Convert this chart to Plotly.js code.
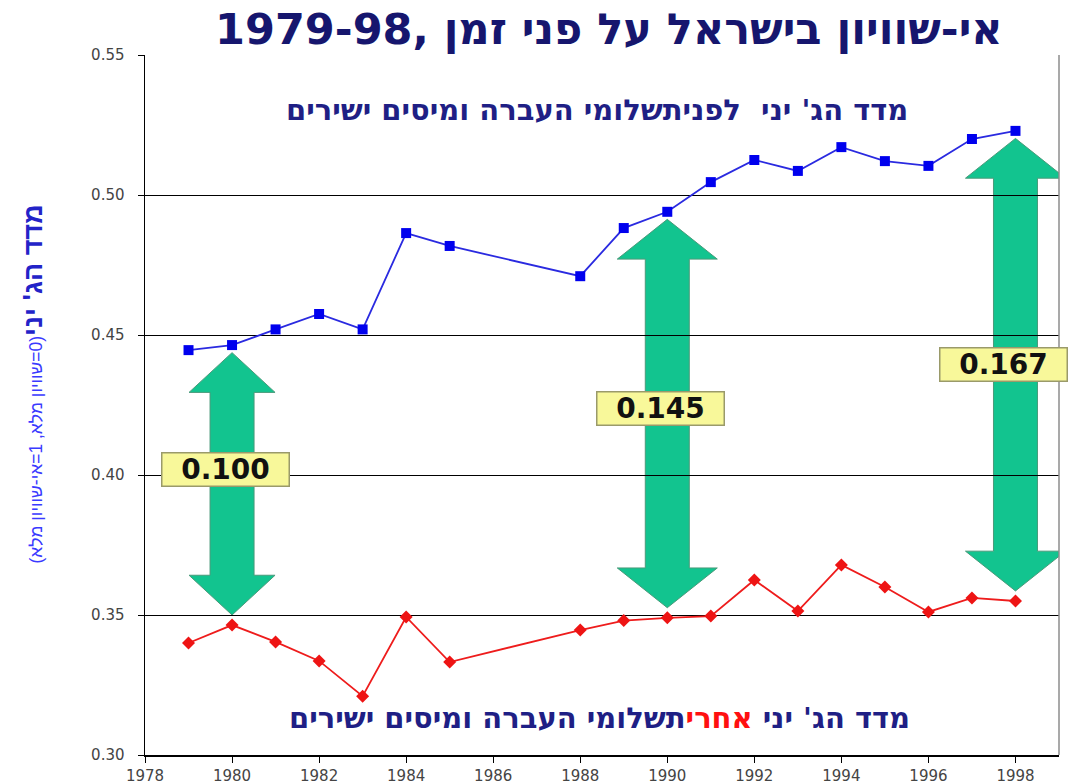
<!DOCTYPE html>
<html>
<head>
<meta charset="utf-8">
<script src="https://cdn.plot.ly/plotly-3.0.1.min.js"></script>
<style>html,body{margin:0;padding:0;background:#fff;}#chart{width:1072px;height:783px;}</style>
</head>
<body>
<div id="chart"></div>
<script>
// ---- data ----
const years = [1979, 1980, 1981, 1982, 1983, 1984, 1985, 1988, 1989, 1990, 1991, 1992, 1993, 1994, 1995, 1996, 1997, 1998];
const giniBefore = [0.4446, 0.4464, 0.452, 0.4575, 0.452, 0.4864, 0.4818, 0.471, 0.4882, 0.494, 0.5046, 0.5125, 0.5086, 0.5171, 0.5121, 0.5104, 0.520, 0.5229];
const giniAfter = [0.340, 0.3464, 0.3404, 0.3336, 0.321, 0.3493, 0.3332, 0.3446, 0.348, 0.349, 0.3496, 0.3625, 0.3514, 0.3679, 0.360, 0.3511, 0.3561, 0.355];
const gapYears = [1980, 1990, 1998];
const gapLabels = ['0.100', '0.145', '0.167'];
const yTickVals = [0.30, 0.35, 0.40, 0.45, 0.50, 0.55];
const xTickVals = [1978, 1980, 1982, 1984, 1986, 1988, 1990, 1992, 1994, 1996, 1998];

const titleText = 'אי-שוויון בישראל על פני זמן ,1979-98';
const topLabel = "מדד הג' יני  לפניתשלומי העברה ומיסים ישירים";
const bottomLabelA = "מדד הג' יני ";
const bottomLabelB = 'אחרי';
const bottomLabelC = 'תשלומי העברה ומיסים ישירים';
const yTitleMain = "מדד הג' יני";
const yTitleSub = '(0=שוויון מלא, 1=אי-שוויון מלא)';

// ---- style / layout ----
const headHalf = [43, 50, 50];
const shaftHalf = 22;
const headH = 0.0142;
const tipTop = 0.0027, tipBot = 0.0036;
const labelPos = [[1979.84, 0.4018], [1989.84, 0.4238], [1997.72, 0.4393]];

function arrowPath(hw, yt, yb) {
  const sw = shaftHalf;
  const pts = [[0, yt], [hw, yt - headH], [sw, yt - headH], [sw, yb + headH], [hw, yb + headH], [0, yb],
               [-hw, yb + headH], [-sw, yb + headH], [-sw, yt - headH], [-hw, yt - headH]];
  return 'M' + pts.map(p => p[0] + ',' + p[1]).join(' L') + ' Z';
}

const shapes = [];
gapYears.forEach((yr, i) => {
  const idx = years.indexOf(yr);
  const yt = giniBefore[idx] - tipTop;
  const yb = giniAfter[idx] + tipBot;
  shapes.push({
    type: 'path', xref: 'x', yref: 'y', xsizemode: 'pixel', xanchor: yr,
    path: arrowPath(headHalf[i], yt, yb),
    fillcolor: '#12C48F', line: {color: '#4a9a7a', width: 1}, layer: 'below'
  });
});
shapes.push({type: 'line', xref: 'paper', yref: 'paper', x0: 1, x1: 1, y0: 0, y1: 1, line: {color: '#8c8c8c', width: 1.5}});

const annotations = [];
gapLabels.forEach((t, i) => {
  annotations.push({
    x: labelPos[i][0], y: labelPos[i][1], xref: 'x', yref: 'y', text: '<b>' + t + '</b>', showarrow: false,
    font: {family: 'DejaVu Sans', size: 28, color: '#111'}, bgcolor: '#F8F89A', bordercolor: '#9a9a6a',
    borderwidth: 1.5, borderpad: 3, width: 120, height: 26
  });
});
annotations.push({
  x: 0.4945, y: 0.921, xref: 'paper', yref: 'paper', xanchor: 'center', yanchor: 'middle',
  text: '<b>' + topLabel + '</b>', showarrow: false,
  font: {family: 'DejaVu Sans', size: 29, color: '#1f1f85'}
});
annotations.push({
  x: 0.497, y: 0.053, xref: 'paper', yref: 'paper', xanchor: 'center', yanchor: 'middle',
  text: '<b>' + bottomLabelA + '<span style="color:#ff1010">' + bottomLabelB + '</span>' + bottomLabelC + '</b>',
  showarrow: false, font: {family: 'DejaVu Sans', size: 29, color: '#1f1f85'}
});
annotations.push({
  x: -0.122, y: 0.53, xref: 'paper', yref: 'paper', xanchor: 'center', yanchor: 'middle', textangle: -90, showarrow: false,
  text: '<b><span style="font-size:27px;color:#2323c8">' + yTitleMain + '</span></b><span style="font-size:17.5px;color:#3a3aff">' + yTitleSub + '</span>',
  font: {family: 'Liberation Sans, Arial', size: 17.5, color: '#3a3aff'}
});

const traces = [
  {x: years, y: giniBefore, type: 'scatter', mode: 'lines+markers', name: 'before',
   line: {color: '#2a2ae0', width: 1.8}, marker: {symbol: 'square', size: 10, color: '#0000ee'}},
  {x: years, y: giniAfter, type: 'scatter', mode: 'lines+markers', name: 'after',
   line: {color: '#ee1c1c', width: 1.8}, marker: {symbol: 'diamond', size: 10, color: '#ee1414'}}
];

const layout = {
  width: 1072, height: 783,
  margin: {l: 145, r: 13, t: 55, b: 28},
  paper_bgcolor: '#fff', plot_bgcolor: '#fff',
  showlegend: false,
  title: {text: '<b>' + titleText + '</b>', x: 0.568, xanchor: 'center', y: 0.963, yanchor: 'middle',
          font: {family: 'DejaVu Sans', size: 43, color: '#16166e'}},
  xaxis: {range: [1978, 1999], tickvals: xTickVals, ticktext: xTickVals.map(String), ticks: 'outside', ticklen: 6,
          tickcolor: '#000', showline: true, linecolor: '#000', linewidth: 1.5, showgrid: false, zeroline: false,
          tickfont: {family: 'DejaVu Sans', size: 15, color: '#444'}, fixedrange: true},
  yaxis: {range: [0.30, 0.55], tickvals: yTickVals, ticktext: yTickVals.map(v => v.toFixed(2)), ticks: 'outside', ticklen: 6,
          tickcolor: '#000', showline: true, linecolor: '#000', linewidth: 1.5, showgrid: true, gridcolor: '#000', gridwidth: 1,
          zeroline: false, ticklabelstandoff: 10,
          tickfont: {family: 'DejaVu Sans', size: 15, color: '#444'}, fixedrange: true},
  shapes: shapes,
  annotations: annotations
};

Plotly.newPlot('chart', traces, layout, {displayModeBar: false, staticPlot: true});
</script>
</body>
</html>
